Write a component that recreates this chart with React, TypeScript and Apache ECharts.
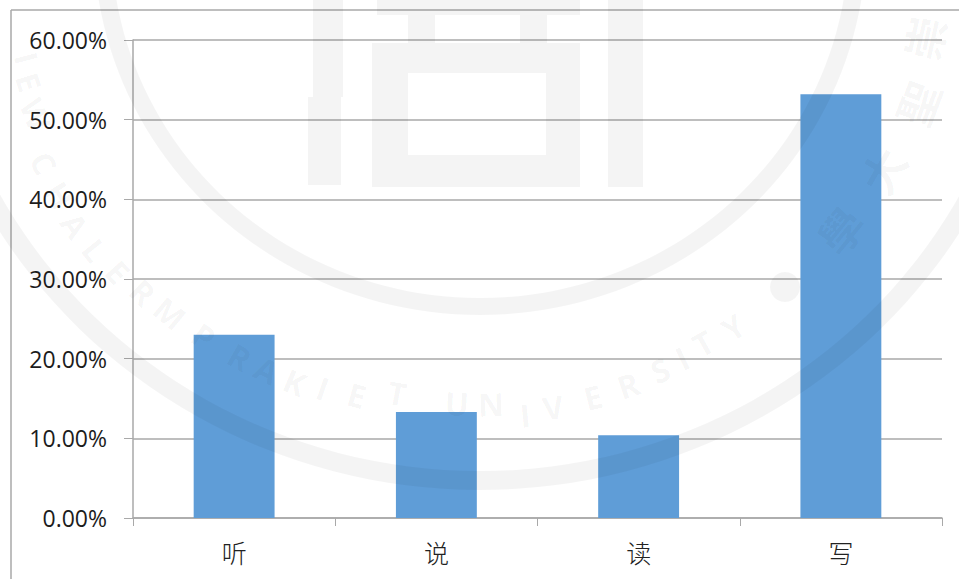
import React, { useEffect, useRef } from "react";
import * as echarts from "echarts";

// Share of each language skill, in percent.
const categories = ["听", "说", "读", "写"];
const shares = [23.0, 13.3, 10.4, 53.2];

const AXIS_COLOR = "#a9a9a9";
const BAR_COLOR = "#5f9dd7";
const STAMP = "rgba(0,0,0,0.045)";

// University seal printed faintly over the whole page; slightly wider than tall.
const SEAL_X = 480;
const SEAL_Y = -60;
const SEAL_STRETCH = 1.03;

const sealLetters: [string, number, number][] = [
  ["I", 27, 58], ["E", 29, 82], ["W", 36, 114], ["C", 44, 163], ["H", 60, 195],
  ["A", 75, 225], ["L", 95, 250], ["E", 118, 272], ["R", 143, 292], ["M", 170, 313],
  ["P", 204, 336], ["R", 240, 357], ["A", 267, 370], ["K", 295, 382], ["I", 323, 388],
  ["E", 357, 395], ["T", 397, 393], ["U", 457, 403], ["N", 491, 404], ["I", 525, 415],
  ["V", 553, 407], ["E", 593, 397], ["R", 628, 385], ["S", 660, 370], ["I", 682, 358],
  ["T", 703, 343], ["Y", 733, 327],
];

const sealGlyphs: [string, number, number][] = [
  ["學", 840, 230], ["大", 882, 170], ["聖", 917, 103], ["崇", 924, 38],
];

const sealBlocks: [number, number, number, number][] = [
  [313, 0, 30, 97], [308, 97, 33, 88], [377, 0, 203, 15], [408, 15, 27, 28], [520, 15, 27, 28],
  [372, 43, 208, 30], [372, 155, 208, 32], [372, 73, 36, 82], [546, 73, 34, 82], [608, 0, 35, 187],
];

function sealGraphics() {
  const silent = true;
  const z = 50;
  const band = (r: number, r0: number) => ({
    type: "ring", silent, z,
    x: SEAL_X, y: SEAL_Y, scaleX: SEAL_STRETCH,
    shape: { cx: 0, cy: 0, r, r0 },
    style: { fill: STAMP },
  });
  return [
    band(375, 358),
    band(550, 531),
    { type: "circle", silent, z, shape: { cx: 785, cy: 287, r: 15 }, style: { fill: STAMP } },
    ...sealBlocks.map(([x, y, width, height]) => ({
      type: "rect", silent, z, shape: { x, y, width, height }, style: { fill: STAMP },
    })),
    ...sealLetters.map(([text, x, y]) => ({
      type: "text", silent, z, x, y,
      rotation: Math.atan2(x - SEAL_X, y - SEAL_Y),
      style: { text, fill: STAMP, fontFamily: "Open Sans", fontWeight: 700, fontSize: 32, align: "center", verticalAlign: "middle" },
    })),
    ...sealGlyphs.map(([text, x, y]) => ({
      type: "text", silent, z, x, y,
      rotation: Math.atan2(x - SEAL_X, y - SEAL_Y),
      style: { text, fill: STAMP, fontFamily: "Noto Sans CJK TC", fontWeight: 700, fontSize: 44, align: "center", verticalAlign: "middle" },
    })),
  ];
}

export default function App() {
  const ref = useRef<HTMLDivElement>(null);

  useEffect(() => {
    document.body.style.margin = "0";
    const chart = echarts.init(ref.current!, undefined, { renderer: "svg" });
    chart.setOption({
      animation: false,
      backgroundColor: "#ffffff",
      grid: { left: 133, right: 17, top: 40, bottom: 61, containLabel: false },
      xAxis: {
        type: "category",
        data: categories,
        axisLine: { lineStyle: { color: AXIS_COLOR, width: 1.5 } },
        axisTick: { show: true, alignWithLabel: false, length: 8, lineStyle: { color: AXIS_COLOR, width: 1 } },
        axisLabel: { color: "#222222", fontFamily: "Noto Sans CJK SC", fontWeight: 300, fontSize: 25, margin: 21 },
      },
      yAxis: {
        type: "value",
        min: 0,
        max: 60,
        interval: 10,
        axisLine: { show: true, lineStyle: { color: AXIS_COLOR, width: 1.5 } },
        axisTick: { show: true, length: 9, lineStyle: { color: AXIS_COLOR, width: 1 } },
        axisLabel: {
          color: "#1c1c1c",
          fontFamily: "Open Sans",
          fontSize: 23,
          margin: 26,
          formatter: (v: number) => `${v.toFixed(2)}%`,
        },
        splitLine: { lineStyle: { color: AXIS_COLOR, width: 1.5 } },
      },
      series: [
        {
          type: "bar",
          data: shares,
          barWidth: "40%",
          itemStyle: { color: BAR_COLOR },
        },
      ],
      graphic: [
        // Chart frame, running off the right and bottom of the page.
        { type: "line", silent: true, shape: { x1: 11, y1: 10, x2: 959, y2: 10 }, style: { stroke: AXIS_COLOR, lineWidth: 1.5 } },
        { type: "line", silent: true, shape: { x1: 11, y1: 10, x2: 11, y2: 579 }, style: { stroke: AXIS_COLOR, lineWidth: 1.5 } },
        ...sealGraphics(),
      ],
    });
    return () => chart.dispose();
  }, []);

  return <div ref={ref} style={{ width: 959, height: 579 }} />;
}
